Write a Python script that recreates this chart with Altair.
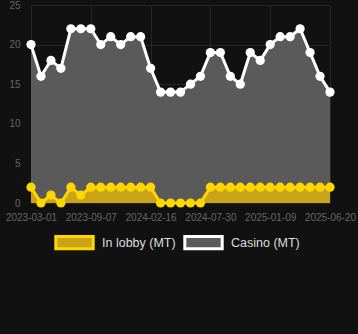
import altair as alt
import pandas as pd

dates = [
    "2023-03-01", "2023-04-02", "2023-05-04", "2023-06-05", "2023-07-06", "2023-08-07",
    "2023-09-07", "2023-10-04", "2023-10-31", "2023-11-27", "2023-12-24", "2024-01-20",
    "2024-02-16", "2024-03-15", "2024-04-11", "2024-05-09", "2024-06-05", "2024-07-03",
    "2024-07-30", "2024-08-26", "2024-09-22", "2024-10-20", "2024-11-16", "2024-12-13",
    "2025-01-09", "2025-02-05", "2025-03-04", "2025-03-31", "2025-04-27", "2025-05-24",
    "2025-06-20",
]
casino = [20, 16, 18, 17, 22, 22, 22, 20, 21, 20, 21, 21, 17, 14, 14, 14, 15, 16, 19, 19,
          16, 15, 19, 18, 20, 21, 21, 22, 19, 16, 14]
lobby = [2, 0, 1, 0, 2, 1, 2, 2, 2, 2, 2, 2, 2, 0, 0, 0, 0, 0, 2, 2,
         2, 2, 2, 2, 2, 2, 2, 2, 2, 2, 2]
tick_dates = ["2023-03-01", "2023-09-07", "2024-02-16", "2024-07-30", "2025-01-09", "2025-06-20"]
series_names = ["In lobby (MT)", "Casino (MT)"]

rows = []
for d, c, l in zip(dates, casino, lobby):
    rows.append({"date": d, "series": "Casino (MT)", "value": c})
    rows.append({"date": d, "series": "In lobby (MT)", "value": l})
df = pd.DataFrame(rows)

x = alt.X("date:O", sort=None, title=None,
          scale=alt.Scale(range=[8, 307], padding=0),
          axis=alt.Axis(values=tick_dates, labelAngle=0, ticks=False, domain=False,
                        labelColor="#666666", labelFontSize=10, labelPadding=9,
                        gridColor="#262626", grid=True))
y = alt.Y("value:Q", stack=None, title=None,
          scale=alt.Scale(domain=[0, 25], nice=False),
          axis=alt.Axis(values=[0, 5, 10, 15, 20, 25], ticks=False, domain=False,
                        labelColor="#666666", labelFontSize=10, labelPadding=3,
                        gridColor="#262626"))

leg = dict(orient="none", direction="horizontal", legendX=31, legendY=217,
           symbolType="M-1,-0.33H1V0.33H-1Z", symbolSize=1400,
           symbolStrokeWidth=3, labelColor="#dddddd", labelFontSize=12.5,
           labelOffset=7, columnPadding=2, title=None)
fill = alt.Fill("series:N", title=None,
                scale=alt.Scale(domain=series_names, range=["#C9A418", "#5A5A5A"]),
                legend=alt.Legend(**leg))
stroke = alt.Stroke("series:N", title=None,
                    scale=alt.Scale(domain=series_names, range=["#FFD700", "#FFFFFF"]),
                    legend=alt.Legend(**leg))

base = alt.Chart(df)

casino_area = base.transform_filter(alt.datum.series == "Casino (MT)").mark_area(
    strokeWidth=0, fillOpacity=1).encode(x=x, y=y, fill=fill, stroke=stroke)
lobby_area = base.transform_filter(alt.datum.series == "In lobby (MT)").mark_area(
    strokeWidth=0, fillOpacity=1).encode(x=x, y=y, fill=fill, stroke=stroke)

casino_line = base.transform_filter(alt.datum.series == "Casino (MT)").mark_line(
    color="#FFFFFF", strokeWidth=3).encode(x=x, y=y)
casino_pts = base.transform_filter(alt.datum.series == "Casino (MT)").mark_point(
    filled=True, color="#FFFFFF", size=85, opacity=1).encode(x=x, y=y)
lobby_line = base.transform_filter(alt.datum.series == "In lobby (MT)").mark_line(
    color="#FFD700", strokeWidth=3).encode(x=x, y=y)
lobby_pts = base.transform_filter(alt.datum.series == "In lobby (MT)").mark_point(
    filled=True, color="#FFD700", size=85, opacity=1).encode(x=x, y=y)

chart = alt.layer(casino_area, lobby_area, casino_line, casino_pts, lobby_line, lobby_pts).properties(
    width=335, height=198,
    autosize=alt.AutoSizeParams(type="none"),
    padding={"left": 23, "top": 5, "right": 0, "bottom": 131},
    background="#111111",
).configure_view(stroke=None).configure_axis(labelFont="Liberation Sans").configure_legend(
    labelFont="Liberation Sans")

chart.save("out.html", embed_options={"renderer": "svg", "actions": False})
